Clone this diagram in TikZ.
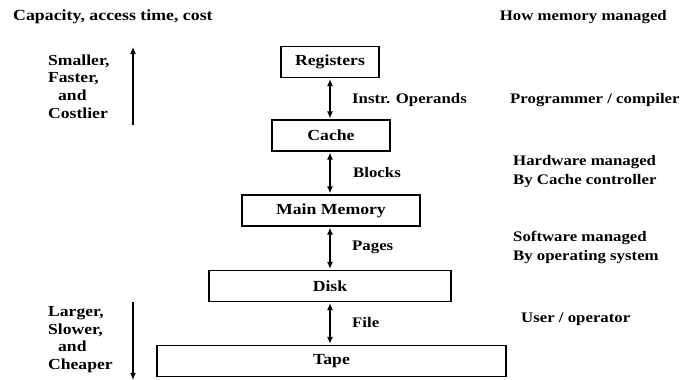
\documentclass[tikz,border=0pt]{standalone}
\usepackage{fontspec}
\setmainfont{Liberation Serif}[FakeStretch=1.15]
\usetikzlibrary{arrows.meta}
\begin{document}
\begin{tikzpicture}[x=1pt,y=-1pt,
  txt/.style={font=\fontsize{14.6}{19}\selectfont\bfseries, inner sep=0pt, anchor=west, align=left},
  side/.style={txt, font=\fontsize{15.3}{17.7}\selectfont\bfseries},
  level/.style={draw, line width=1.3pt, inner sep=0pt, minimum height=31pt,
    font=\fontsize{15.4}{18}\selectfont\bfseries},
  link/.style={line width=1.2pt, {Latex[length=7pt,width=6pt]}-{Latex[length=7pt,width=6pt]}, shorten <=1pt, shorten >=1pt},
  trend/.style={line width=1.2pt, -{Latex[length=7pt,width=6pt]}}]
\useasboundingbox (0,0) rectangle (680,380);

% column headings
\node[txt, font=\fontsize{15.5}{19}\selectfont\bfseries] (hleft) at (13,17) {Capacity, access time, cost};
\node[txt, anchor=east] (hright) at (667,17) {How memory managed};

% memory levels
\node[level, minimum width=98pt]  (reg)  at (330,62)    {Registers};
\node[level, minimum width=118pt] (cache) at (331,135.5) {Cache};
\node[level, minimum width=178pt] (mm)   at (331,210.5) {Main Memory};
\node[level, minimum width=242pt] (disk) at (330,286)   {Disk};
\node[level, minimum width=349pt] (tape) at (331.5,361) {Tape};

% transfers between levels
\draw[link] (reg.south -| 330,0) -- (cache.north -| 330,0);
\draw[link] (cache.south -| 330,0) -- (mm.north -| 330,0);
\draw[link] (mm.south -| 330,0) -- (disk.north -| 330,0);
\draw[link] (disk.south -| 330,0) -- (tape.north -| 330,0);

% transfer units
\node[txt] (u1) at (352,100) {Instr. Operands};
\node[txt] (u2) at (353,173) {Blocks};
\node[txt] (u3) at (352,247) {Pages};
\node[txt] (u4) at (352,322) {File};

% who manages each level
\node[txt] (m1) at (510,100) {Programmer / compiler};
\node[txt] (m2) at (513,172) {Hardware managed\\By Cache controller};
\node[txt] (m3) at (513,247) {Software managed\\By operating system};
\node[txt] (m4) at (521,319) {User / operator};

% trend arrows on the left
\node[side] (top) at (48,86.5) {Smaller,\\Faster,\\\hspace*{10pt}and\\Costlier};
\node[side] (bot) at (48,339.5) {Larger,\\Slower,\\\hspace*{10pt}and\\Cheaper};
\coordinate (upA) at (133,125);
\coordinate (upB) at (133,47);
\coordinate (dnA) at (133,302);
\coordinate (dnB) at (133,380);
\draw[trend] (upA) -- (upB);
\draw[trend] (dnA) -- (dnB);
\end{tikzpicture}
\end{document}
